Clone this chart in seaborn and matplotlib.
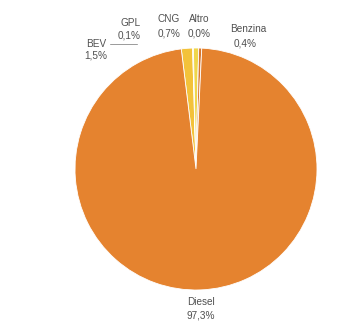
import matplotlib
matplotlib.use("Agg")
import matplotlib.pyplot as plt
import seaborn as sns

# fuel type shares (%), in drawing order (clockwise from top)
fuel_types = ["BEV", "GPL", "CNG", "Altro", "Benzina", "Diesel"]
shares = [1.5, 0.1, 0.7, 0.0, 0.4, 97.3]
share_labels = ["1,5%", "0,1%", "0,7%", "0,0%", "0,4%", "97,3%"]

colors = ["#F3C23A", "#F6E9A6", "#EFD64C", "#6E9B3C", "#D7762E", "#E5832F"]

# label anchor positions in pixel coords (x, y from top)
label_pos = {
    "BEV": (96, 44),
    "GPL": (131, 23),
    "CNG": (169, 19),
    "Altro": (199, 19),
    "Benzina": (248, 29),
    "Diesel": (201, 302),
}
value_pos = {
    "BEV": (96, 56),
    "GPL": (129, 35),
    "CNG": (169, 34),
    "Altro": (199, 34),
    "Benzina": (245, 43),
    "Diesel": (201, 316),
}


def main():
    sns.set_theme(style="white")
    plt.rcParams["font.family"] = ["Liberation Sans", "DejaVu Sans"]

    W, H = 341, 330
    fig = plt.figure(figsize=(W / 100, H / 100), dpi=100)
    ax = fig.add_axes([0, 0, 1, 1])

    ax.pie(
        shares,
        colors=colors,
        startangle=97,
        counterclock=False,
        center=(196, H - 169),
        radius=121,
        wedgeprops={"edgecolor": "white", "linewidth": 0.6},
        frame=True,
    )
    ax.set_xlim(0, W)
    ax.set_ylim(0, H)
    ax.axis("off")

    text_kw = dict(fontsize=7.2, color="#505050", ha="center", va="center")
    for name, val in zip(fuel_types, share_labels):
        x, y = label_pos[name]
        ax.text(x, H - y, name, **text_kw)
        x, y = value_pos[name]
        ax.text(x, H - y, val, **text_kw)

    # leader line under GPL label
    ax.plot([110, 137], [H - 43.5, H - 43.5], color="#9a9a9a", lw=0.7)

    fig.savefig("out.png", dpi=100)
    plt.close(fig)


if __name__ == "__main__":
    main()
